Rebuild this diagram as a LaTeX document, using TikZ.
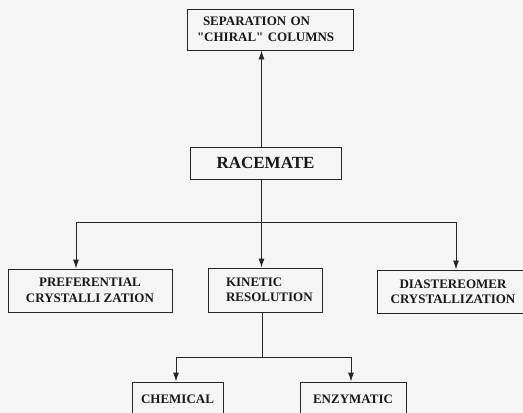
\documentclass[tikz,border=0pt]{standalone}
\usepackage{fontspec}
\setmainfont{Liberation Serif}
\usetikzlibrary{arrows.meta}
\begin{document}
\begin{tikzpicture}[x=1pt,y=-1pt,
  box/.style={draw=black!85, line width=0.9pt, inner sep=0pt,
    font=\fontsize{13}{15.5}\selectfont\bfseries, align=center, text=black!90},
  conn/.style={draw=black!85, line width=0.9pt},
  arr/.style={conn, -{Latex[length=9pt,width=6pt]}}]
\fill[black!4] (0,0) rectangle (523,413);
\clip (0,0) rectangle (523,413);
\node[box, minimum width=166pt, minimum height=41pt, text width=166pt, align=left]
  (sep) at (270,29.5) {\hspace*{16pt}SEPARATION ON\\\hspace*{10pt}\textquotedbl CHIRAL\textquotedbl\ COLUMNS};
\node[box, font=\fontsize{17}{20}\selectfont\bfseries, minimum width=151pt, minimum height=32pt]
  (rac) at (265.5,163) {RACEMATE};
\node[box, minimum width=164pt, minimum height=43pt] (pref) at (90,290.5)
  {PREFERENTIAL\\CRYSTALLI ZATION};
\node[box, minimum width=114pt, minimum height=44pt, text width=114pt, align=left]
  (kin) at (265,290) {\hspace*{18pt}KINETIC\\\hspace*{18pt}RESOLUTION};
\node[box, minimum width=152pt, minimum height=43.5pt] (diast) at (453,291.7)
  {DIASTEREOMER\\CRYSTALLIZATION};
\node[box, minimum width=91pt, minimum height=34pt] (chem) at (177.5,399) {CHEMICAL};
\node[box, minimum width=106pt, minimum height=34pt] (enz) at (353,399) {ENZYMATIC};
\coordinate (j1) at (261.5,222);
\coordinate (j2) at (262,357);
\draw[arr] ([xshift=-4pt]rac.north) -- ([xshift=-4pt]rac.north |- sep.south);
\draw[conn] ([xshift=-4pt]rac.south) -- (j1);
\draw[arr] (j1) -| ([xshift=-14pt]pref.north);
\draw[arr] (j1) -| ([xshift=-3.5pt]kin.north);
\draw[arr] (j1) -| ([xshift=3pt]diast.north);
\draw[conn] ([xshift=-3pt]kin.south) -- (j2);
\draw[arr] (j2) -| ([xshift=-1.5pt]chem.north);
\draw[arr] (j2) -| ([xshift=-2pt]enz.north);
\end{tikzpicture}
\end{document}
